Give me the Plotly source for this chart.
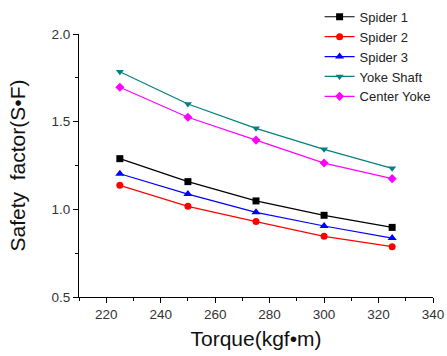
import plotly.graph_objects as go

torque = [225, 250, 275, 300, 325]
spider1 = [1.289, 1.158, 1.048, 0.966, 0.897]
spider2 = [1.137, 1.017, 0.930, 0.846, 0.787]
spider3 = [1.203, 1.087, 0.983, 0.905, 0.836]
yoke_shaft = [1.785, 1.601, 1.462, 1.342, 1.234]
center_yoke = [1.696, 1.525, 1.395, 1.264, 1.175]

series = [
    ("Spider 1", spider1, "#000000", "square"),
    ("Spider 2", spider2, "#ff0000", "circle"),
    ("Spider 3", spider3, "#0000ff", "triangle-up"),
    ("Yoke Shaft", yoke_shaft, "#008080", "triangle-down"),
    ("Center Yoke", center_yoke, "#ff00ff", "diamond"),
]

fig = go.Figure()
for name, vals, color, sym in series:
    fig.add_trace(go.Scatter(
        x=torque, y=vals, name=name, mode="lines+markers",
        line=dict(color=color, width=1.2),
        marker=dict(symbol=sym, size=7 if sym != "triangle-up" else 8, color=color),
    ))

axis_common = dict(
    showline=True, linecolor="black", linewidth=1,
    ticks="outside", ticklen=5, tickcolor="black", tickwidth=1,
    showgrid=False, zeroline=False, mirror=False,
    tickfont=dict(family="Liberation Sans, Arial", size=13.5, color="#333333"),
)

fig.update_xaxes(
    range=[210, 340], tick0=220, dtick=20,
    minor=dict(ticks="outside", ticklen=3, dtick=10, tick0=210, tickcolor="black"),
    title=dict(text="Torque(kgf•m)", font=dict(family="Liberation Sans, Arial", size=21, color="#111111"), standoff=10),
    **axis_common,
)
fig.update_yaxes(
    range=[0.5, 2.0], tick0=0.5, dtick=0.5, tickformat=".1f",
    minor=dict(ticks="outside", ticklen=3, dtick=0.25, tick0=0.5, tickcolor="black"),
    title=dict(text="Safety  factor(S•F)", font=dict(family="Liberation Sans, Arial", size=21, color="#111111"), standoff=20),
    **axis_common,
)

fig.update_layout(
    width=447, height=356,
    margin=dict(l=79, r=14, t=34, b=59, autoexpand=False),
    paper_bgcolor="white", plot_bgcolor="white",
    legend=dict(
        xref="container", yref="container", x=0.715, y=0.995,
        xanchor="left", yanchor="top",
        font=dict(family="Liberation Sans, Arial", size=13, color="#222222"),
        bgcolor="rgba(0,0,0,0)", tracegroupgap=0, itemwidth=30,
    ),
)

fig.write_html("out.html")
